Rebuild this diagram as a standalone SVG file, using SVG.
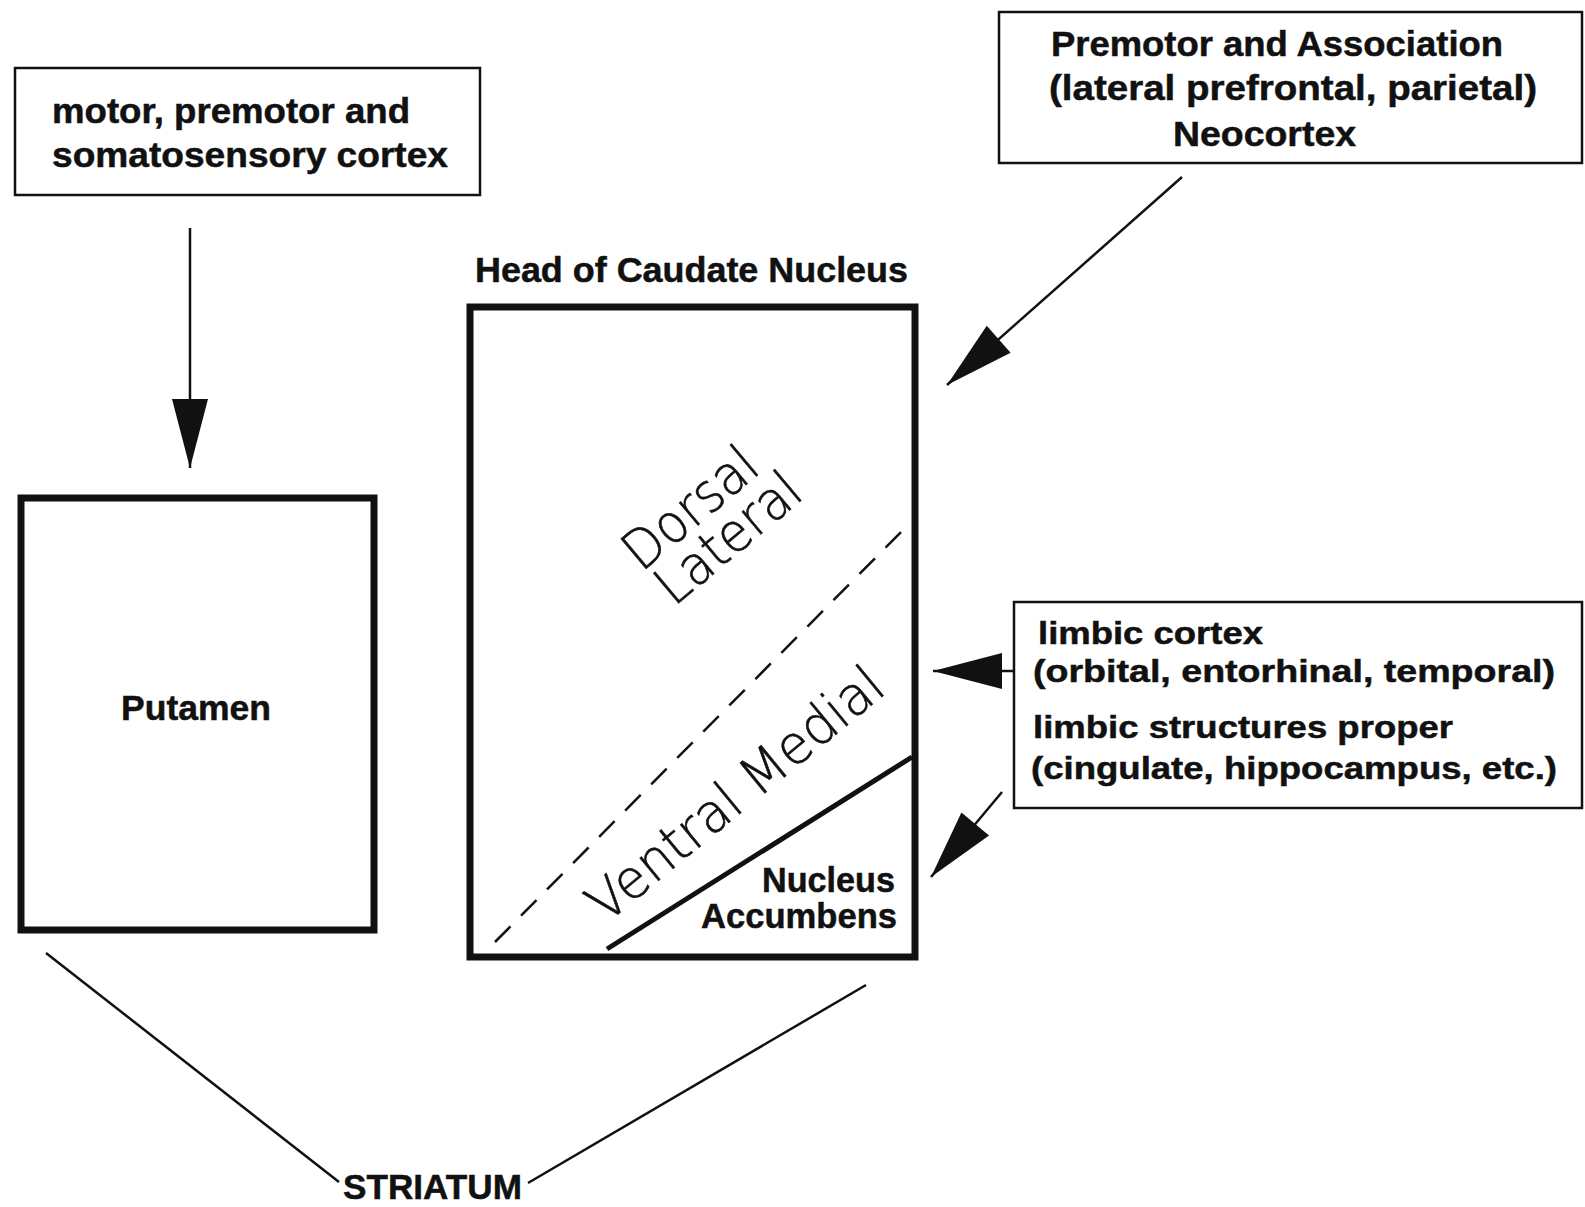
<svg xmlns="http://www.w3.org/2000/svg" width="1585" height="1207" viewBox="0 0 1585 1207">
  <defs>
    <marker id="head" markerUnits="userSpaceOnUse" markerWidth="72" markerHeight="38" viewBox="0 0 72 38" refX="70" refY="19" orient="auto">
      <path d="M1,1 L70,19 L1,37 Z" fill="#111"/>
    </marker>
  </defs>
  <style>
    .thin { fill: none; stroke: #111; stroke-width: 2.5; }
    .thick { fill: none; stroke: #111; stroke-width: 7; }
    .lbl { font-family: "Liberation Sans", Arial, sans-serif; font-weight: bold; font-size: 35px; fill: #111; stroke: #111; stroke-width: 0.5; }
    .sm { font-size: 32px; }
    .zone { font-family: "DejaVu Sans", sans-serif; font-weight: 200; font-size: 54px; fill: #111; stroke: #111; stroke-width: 0.6; text-anchor: middle; }
    .conn { fill: none; stroke: #111; stroke-width: 2.5; }
  </style>
  <rect width="1585" height="1207" fill="#fff"/>

  <g id="motor-cortex">
    <rect class="thin" x="15" y="68" width="465" height="127"/>
    <text class="lbl" x="52" y="123" textLength="358" lengthAdjust="spacingAndGlyphs">motor, premotor and</text>
    <text class="lbl" x="52" y="167" textLength="396" lengthAdjust="spacingAndGlyphs">somatosensory cortex</text>
  </g>

  <g id="association-neocortex">
    <rect class="thin" x="999" y="12" width="583" height="151"/>
    <text class="lbl" x="1051" y="56" textLength="452" lengthAdjust="spacingAndGlyphs">Premotor and Association</text>
    <text class="lbl" x="1049" y="100" textLength="488" lengthAdjust="spacingAndGlyphs">(lateral prefrontal, parietal)</text>
    <text class="lbl" x="1173" y="146" textLength="183" lengthAdjust="spacingAndGlyphs">Neocortex</text>
  </g>

  <g id="putamen">
    <rect class="thick" x="21" y="498" width="353" height="432"/>
    <text class="lbl" x="121" y="720" textLength="150" lengthAdjust="spacingAndGlyphs">Putamen</text>
  </g>

  <g id="caudate">
    <text class="lbl" x="475" y="282" textLength="433" lengthAdjust="spacingAndGlyphs">Head of Caudate Nucleus</text>
    <rect class="thick" x="470" y="307" width="445" height="650"/>
    <line x1="495" y1="942" x2="903" y2="530" stroke="#111" stroke-width="2.5" stroke-dasharray="22 15"/>
    <line x1="607" y1="949" x2="912" y2="757" stroke="#111" stroke-width="5"/>
    <text class="zone" transform="translate(702,522) rotate(-40)" textLength="158" lengthAdjust="spacingAndGlyphs">Dorsal</text>
    <text class="zone" transform="translate(740,552) rotate(-40)" textLength="172" lengthAdjust="spacingAndGlyphs">Lateral</text>
    <text class="zone" transform="translate(747,808) rotate(-39.5)" textLength="366" lengthAdjust="spacingAndGlyphs">Ventral Medial</text>
    <text class="lbl" x="762" y="892" textLength="133" lengthAdjust="spacingAndGlyphs">Nucleus</text>
    <text class="lbl" x="701" y="928" textLength="196" lengthAdjust="spacingAndGlyphs">Accumbens</text>
  </g>

  <g id="limbic">
    <rect class="thin" x="1014" y="602" width="568" height="206"/>
    <text class="lbl sm" x="1038" y="644" textLength="225" lengthAdjust="spacingAndGlyphs">limbic cortex</text>
    <text class="lbl sm" x="1033" y="682" textLength="522" lengthAdjust="spacingAndGlyphs">(orbital, entorhinal, temporal)</text>
    <text class="lbl sm" x="1033" y="738" textLength="420" lengthAdjust="spacingAndGlyphs">limbic structures proper</text>
    <text class="lbl sm" x="1031" y="779" textLength="526" lengthAdjust="spacingAndGlyphs">(cingulate, hippocampus, etc.)</text>
  </g>

  <g id="striatum">
    <text class="lbl" x="343" y="1199" font-size="31" textLength="179" lengthAdjust="spacingAndGlyphs">STRIATUM</text>
  </g>

  <g id="connectors">
    <line class="conn" x1="190" y1="228" x2="190" y2="468" marker-end="url(#head)"/>
    <line class="conn" x1="1182" y1="177" x2="947" y2="385" marker-end="url(#head)"/>
    <line class="conn" x1="1013" y1="671" x2="933" y2="671" marker-end="url(#head)"/>
    <line class="conn" x1="1002" y1="792" x2="931" y2="877" marker-end="url(#head)"/>
    <line class="conn" x1="46" y1="953" x2="339" y2="1182"/>
    <line class="conn" x1="866" y1="985" x2="528" y2="1183"/>
  </g>
</svg>
